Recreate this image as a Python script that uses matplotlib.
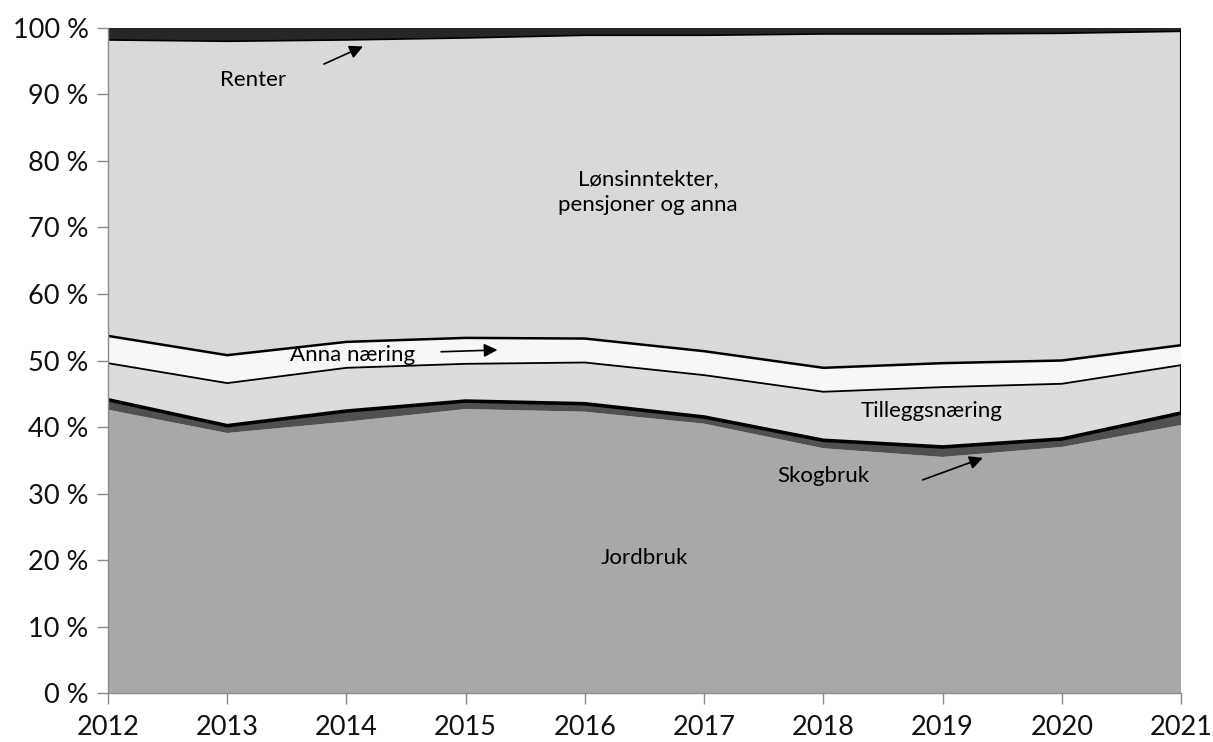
import matplotlib
matplotlib.use("Agg")
import matplotlib.pyplot as plt
import numpy as np

years = [2012, 2013, 2014, 2015, 2016, 2017, 2018, 2019, 2020, 2021]
jordbruk = [42.6, 39.1, 40.8, 42.7, 42.3, 40.5, 36.8, 35.5, 37.0, 40.3]
skogbruk = [1.5, 1.1, 1.6, 1.2, 1.2, 1.0, 1.2, 1.5, 1.2, 1.8]
tilleggsnaering = [5.5, 6.4, 6.5, 5.6, 6.2, 6.3, 7.3, 9.0, 8.3, 7.2]
anna_naering = [4.1, 4.2, 3.9, 3.9, 3.6, 3.6, 3.6, 3.6, 3.5, 3.0]
lonn = [44.5, 47.2, 45.4, 45.1, 45.6, 47.5, 50.2, 49.5, 49.2, 47.2]
renter = [1.8, 2.0, 1.8, 1.5, 1.1, 1.1, 0.9, 0.9, 0.8, 0.5]

series = [jordbruk, skogbruk, tilleggsnaering, anna_naering, lonn, renter]
colors = ["#a8a8a8", "#505050", "#dcdcdc", "#f7f7f7", "#d9d9d9", "#262626"]
y_ticks = list(range(0, 101, 10))
y_labels = [f"{v} %" for v in y_ticks]

plt.rcParams['font.family'] = ['Lato', 'DejaVu Sans']

fig = plt.figure(figsize=(12.13, 7.42), dpi=100)
ax = fig.add_axes([0.089, 0.066, 0.8847, 0.8963])

x = np.array(years)
ax.stackplot(x, *series, colors=colors, linewidth=0)

cum = np.cumsum(np.array(series), axis=0)
# edge lines
ax.plot(x, cum[1], color="black", lw=2.6, solid_capstyle="butt")
ax.plot(x, cum[2], color="black", lw=1.3)
ax.plot(x, cum[3], color="black", lw=1.8)
ax.plot(x, cum[4], color="black", lw=1.2)
ax.plot([x[-1], x[-1]], [cum[3][-1], cum[4][-1]], color="black", lw=1.5)
ax.plot([x[-1], x[-1]], [cum[1][-1], cum[2][-1]], color="black", lw=1.5)

ax.set_xlim(2012, 2021)
ax.set_ylim(0, 100)
ax.set_xticks(years)
ax.set_xticklabels([str(y) for y in years])
ax.set_yticks(y_ticks)
ax.set_yticklabels(y_labels)
for s in ["top", "right"]:
    ax.spines[s].set_visible(False)
for s in ["left", "bottom"]:
    ax.spines[s].set_color("#8c8c8c")
    ax.spines[s].set_linewidth(1.0)
ax.tick_params(axis="both", direction="out", length=8, width=1.0, color="#8c8c8c",
               labelsize=19.5, labelcolor="#111111", pad=6)
ax.tick_params(axis="x", pad=8)

tfs = 16
arrow = dict(arrowstyle="-|>", color="black", lw=1.2, mutation_scale=20)
ax.text(2013.22, 92.2, "Renter", ha="center", va="center", fontsize=tfs)
ax.annotate("", xy=(2014.16, 97.4), xytext=(2013.79, 94.4), arrowprops=arrow)
ax.text(2016.53, 75.3, "Lønsinntekter,\npensjoner og anna", ha="center", va="center",
        fontsize=tfs, linespacing=1.35)
ax.text(2014.05, 50.8, "Anna næring", ha="center", va="center", fontsize=tfs)
ax.annotate("", xy=(2015.29, 51.6), xytext=(2014.77, 51.3), arrowprops=arrow)
ax.text(2018.91, 42.4, "Tilleggsnæring", ha="center", va="center", fontsize=tfs)
ax.text(2018.0, 32.6, "Skogbruk", ha="center", va="center", fontsize=tfs)
ax.annotate("", xy=(2019.36, 35.5), xytext=(2018.81, 31.9), arrowprops=arrow)
ax.text(2016.5, 20.3, "Jordbruk", ha="center", va="center", fontsize=tfs)

fig.savefig("out.png", dpi=100)
